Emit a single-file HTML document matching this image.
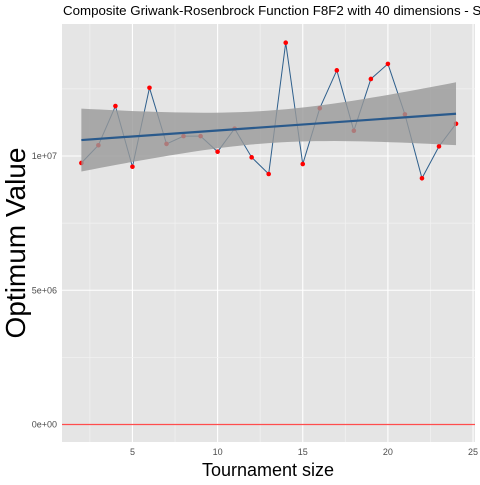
<!DOCTYPE html>
<html><head><meta charset="utf-8"><style>
body{margin:0;background:#fff;font-family:"Liberation Sans",Arial,sans-serif}
svg text{font-family:"Liberation Sans",Arial,sans-serif}
</style></head><body>
<svg id="c" width="480" height="480">
<rect x="0" y="0" width="480" height="480" fill="#fff"/>
<text x="63" y="15" font-size="13.3" fill="#000">Composite Griwank-Rosenbrock Function F8F2 with 40 dimensions -  S</text>
<rect x="62" y="24" width="413" height="418" fill="#e5e5e5"/>
<g id="grid"></g><g id="marks"></g><g id="axes"></g>
<text x="0" y="0" font-size="28" transform="translate(25,243) rotate(-90)" text-anchor="middle">Optimum Value</text>
<text x="268" y="476" font-size="18" text-anchor="middle">Tournament size</text>
</svg>
<script>
const xs=[2,3,4,5,6,7,8,9,10,11,12,13,14,15,16,17,18,19,20,21,22,23,24];
const ys=[9.74e6,1.040e7,1.186e7,9.60e6,1.254e7,1.045e7,1.074e7,1.074e7,1.016e7,1.102e7,9.95e6,9.33e6,1.422e7,9.70e6,1.178e7,1.319e7,1.094e7,1.287e7,1.343e7,1.155e7,9.17e6,1.036e7,1.120e7];
const xTicks=[5,10,15,20,25];
const yTicks=[0,5e6,1e7];
const yTickLabels=["0e+00","5e+06","1e+07"];
const NS="http://www.w3.org/2000/svg";
const X=v=>47.3+v*17.03;
const Y=v=>424.5-v/1e7*268.5;
function mk(tag,attrs,parent){const e=document.createElementNS(NS,tag);for(const k in attrs)e.setAttribute(k,attrs[k]);document.getElementById(parent).appendChild(e);return e;}
for(const t of xTicks){
 let e=mk('line',{x1:X(t-2.5),x2:X(t-2.5),y1:24,y2:442,stroke:'#f2f2f2','stroke-width':0.7},'grid');
 
 
 e=mk('line',{x1:X(t),x2:X(t),y1:24,y2:442,stroke:'#fff','stroke-width':1.1},'grid');
 
 
 e=mk('text',{x:X(t),y:455,'font-size':9,fill:'#4d4d4d','text-anchor':'middle'},'axes');e.textContent=t;
 
 
}
for(const m of [2.5e6,7.5e6,1.25e7]){
 const e=mk('line',{x1:62,x2:475,y1:Y(m),y2:Y(m),stroke:'#f2f2f2','stroke-width':0.7},'grid');
 
 
}
yTicks.forEach((t,i)=>{
 let e=mk('line',{x1:62,x2:475,y1:Y(t),y2:Y(t),stroke:'#fff','stroke-width':1.1},'grid');
 
 
 e=mk('text',{x:57,y:Y(t)+3,'font-size':9,fill:'#4d4d4d','text-anchor':'end'},'axes');e.textContent=yTickLabels[i];
 
 
});
let h=mk('line',{x1:62,x2:475,y1:Y(0),y2:Y(0),stroke:'#ff4d4d','stroke-width':1.2},'marks');


let p=mk('polyline',{points:xs.map((x,i)=>X(x)+','+Y(ys[i])).join(' '),fill:'none',stroke:'#2e5f8c','stroke-width':1},'marks');


xs.forEach((x,i)=>{
 const c=mk('circle',{cx:X(x),cy:Y(ys[i]),r:2.3,fill:'#ff0000'},'marks');
 
 
});
const n=xs.length,mx=xs.reduce((a,b)=>a+b)/n,my=ys.reduce((a,b)=>a+b)/n;
let sxx=0,sxy=0;xs.forEach((x,i)=>{sxx+=(x-mx)**2;sxy+=(x-mx)*(ys[i]-my);});
const b=sxy/sxx,a=my-b*mx;
let sse=0;xs.forEach((x,i)=>{sse+=(ys[i]-a-b*x)**2;});
const s=Math.sqrt(sse/(n-2)),tq=2.08;
const up=[],lo=[];
for(let k=0;k<=40;k++){const x=xs[0]+(xs[n-1]-xs[0])*k/40;const f=a+b*x;const se=s*Math.sqrt(1/n+(x-mx)**2/sxx);up.push(X(x)+','+Y(f+tq*se));lo.unshift(X(x)+','+Y(f-tq*se));}
let band=mk('polygon',{points:up.concat(lo).join(' '),fill:'#999','fill-opacity':0.8},'marks');


let fl=mk('line',{x1:X(xs[0]),y1:Y(a+b*xs[0]),x2:X(xs[n-1]),y2:Y(a+b*xs[n-1]),stroke:'#2a5a8c','stroke-width':2.2},'marks');


</script>
</body></html>
